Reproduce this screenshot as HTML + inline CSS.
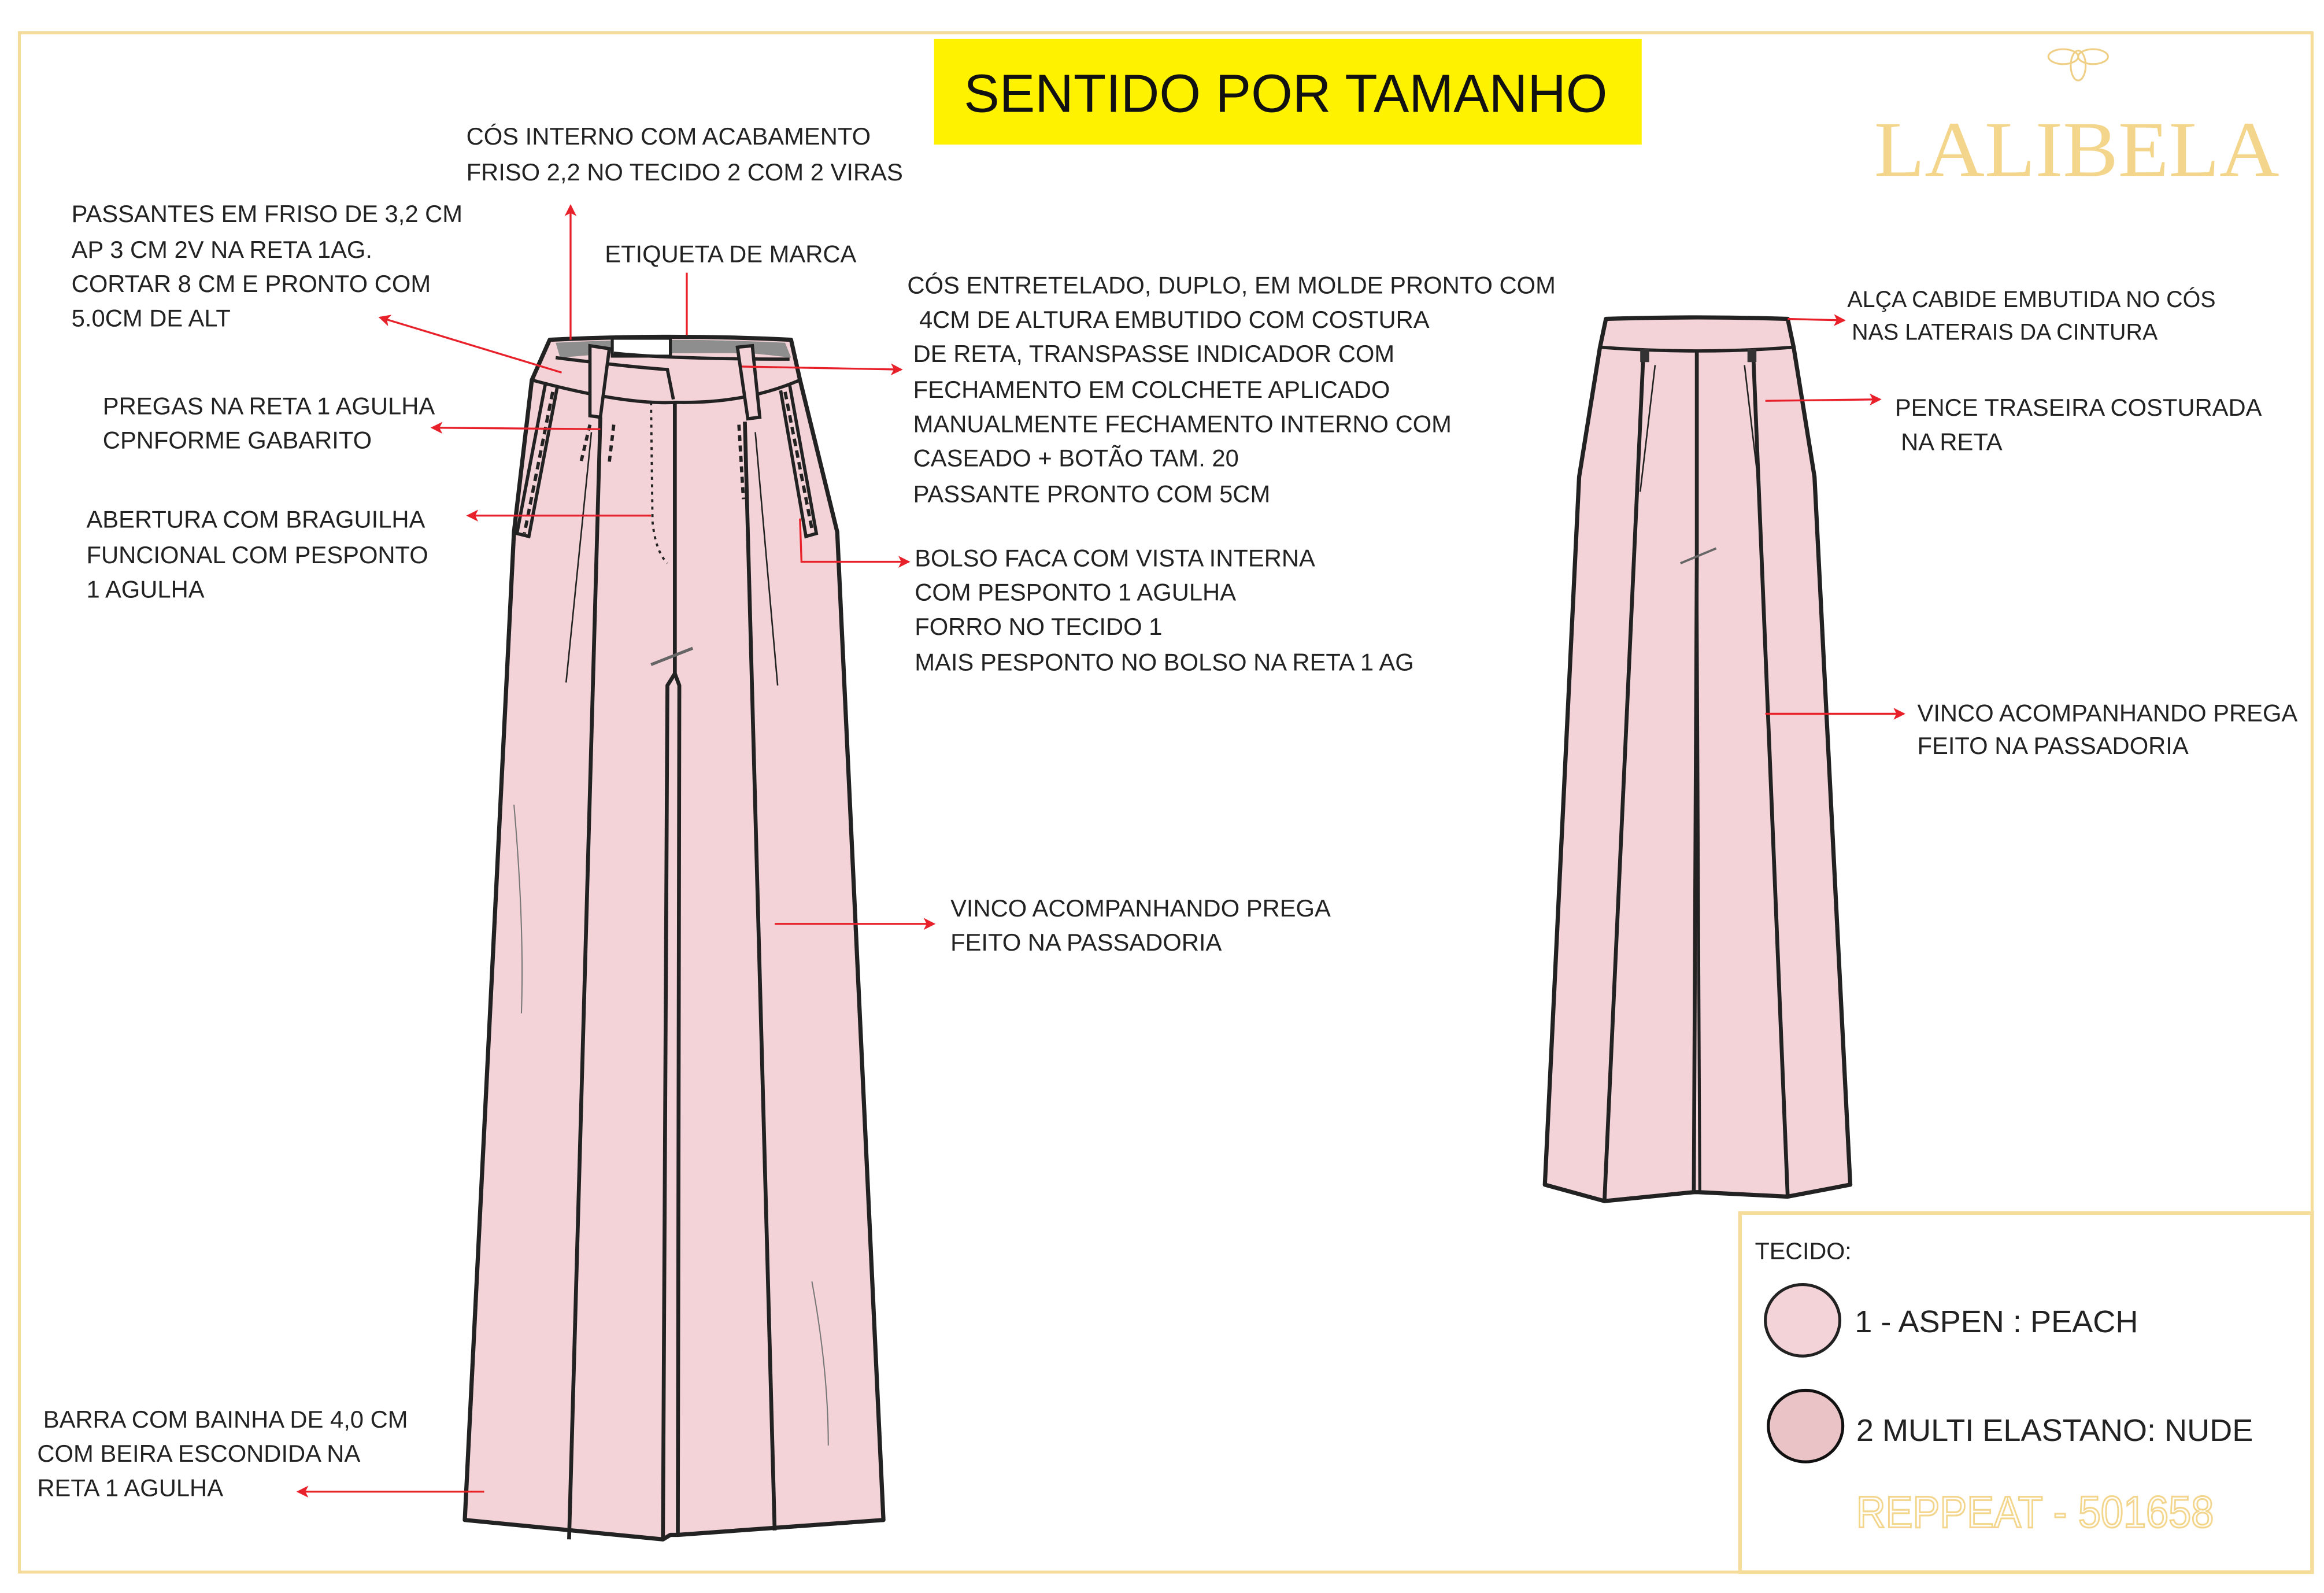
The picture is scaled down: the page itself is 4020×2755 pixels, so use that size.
<!DOCTYPE html>
<html><head><meta charset="utf-8"><style>
html,body{margin:0;padding:0;background:#fff;}
svg{display:block;}
text{font-family:"Liberation Sans",sans-serif;}
</style></head><body>
<svg width="4020" height="2755" viewBox="0 0 1560 1069" preserveAspectRatio="none" xmlns="http://www.w3.org/2000/svg">
<defs>
<marker id="ah" markerWidth="8" markerHeight="8" refX="7" refY="4" orient="auto" markerUnits="userSpaceOnUse">
<path d="M0,0 L8,4 L0,8 L2,4 Z" fill="#e8202a"/></marker>
</defs>
<rect x="0" y="0" width="1560" height="1069" fill="#fff"/>
<rect x="13" y="22" width="1539" height="1033" fill="none" stroke="#f6dc9a" stroke-width="2"/>
<rect x="1168" y="814" width="384" height="241" fill="#fff" stroke="#f6dc9a" stroke-width="2.5"/>

<rect x="627" y="26" width="475" height="71" fill="#fff200"/>
<text x="863" y="75" font-size="36" text-anchor="middle" fill="#111" textLength="432" lengthAdjust="spacingAndGlyphs">SENTIDO POR TAMANHO</text>

<text x="1394" y="118" font-size="53" text-anchor="middle" fill="#f3d58c" style="font-family:'Liberation Serif',serif;" textLength="272" lengthAdjust="spacingAndGlyphs">LALIBELA</text>
<g fill="none" stroke="#efcf86" stroke-width="1.2"><ellipse cx="1395" cy="44" rx="5" ry="10"/><ellipse cx="1385" cy="38" rx="10" ry="5"/><ellipse cx="1405" cy="38" rx="10" ry="5"/></g>

<!-- FRONT PANTS -->
<path d="M369,228 Q450,224 531,228 L537,255 L562,357 L593,1020 L455,1030 L450,1030 L445,1033 L312,1020 L345,357 L357,255 Z" fill="#f3d3d8" stroke="#222" stroke-width="2.8" stroke-linejoin="round"/>
<path d="M373,230 Q450,226 527,230 L531,240 Q498,236 495,237 L412,237 L376,240 Z" fill="#8e8e8e"/>
<rect x="411" y="227" width="39" height="12" fill="#fff" stroke="#222" stroke-width="2"/>
<g stroke="#222" stroke-width="2.2" fill="none">
<path d="M357,255 Q420,272 454,270 Q500,271 537,255"/>
<path d="M412,237 Q450,241 530,241"/>
<path d="M373,240 Q420,246 448,248 L452,268"/>
<path d="M396,232 L409,234 L403,280 L396,279 Z" fill="#f3d3d8"/>
<path d="M495,233 L505,232 L510,280 L502,281 Z" fill="#f3d3d8"/>
<path d="M403,280 L382,1033" stroke-width="2.6"/>
<path d="M500,283 L520,1027" stroke-width="2.6"/>
<path d="M453,270 L453,452 L448,460 L445,1033" stroke-width="2.6"/>
<path d="M453,452 L456,460 L455,1030" stroke-width="2.6"/>
<path d="M366,258 L347,358 L355,360 L374,260"/>
<path d="M530,258 L548,358 L541,360 L524,262"/>
<path d="M371,263 L352,358" stroke-dasharray="5,3"/>
<path d="M527,263 L545,355" stroke-dasharray="5,3"/>
<path d="M396,285 L390,310" stroke-dasharray="4,3"/>
<path d="M412,285 L409,310" stroke-dasharray="4,3"/>
<path d="M496,285 L499,335" stroke-dasharray="4,3"/>
<path d="M437,270 L438,350 Q440,370 448,378" stroke-dasharray="2,3" stroke-width="1.5"/>
<path d="M397,290 L380,458" stroke-width="1"/>
<path d="M507,290 L522,460" stroke-width="1"/>
</g>
<path d="M437,446 L465,435" stroke="#666" stroke-width="2"/>
<path d="M345,540 Q352,620 350,680" stroke="#777" stroke-width="0.8" fill="none"/>
<path d="M545,860 Q556,920 556,970" stroke="#777" stroke-width="0.8" fill="none"/>

<!-- BACK PANTS -->
<path d="M1078,214 Q1140,212 1200,214 L1204,233 L1218,320 L1242,795 L1200,803 L1140,800 L1137,800 L1077,806 L1037,795 L1060,320 L1074,233 Z" fill="#f3d3d8" stroke="#222" stroke-width="2.8" stroke-linejoin="round"/>
<g stroke="#222" stroke-width="2.2" fill="none">
<path d="M1074,233 Q1140,238 1204,233"/>
<path d="M1139,236 L1139,372 L1137,800" stroke-width="2.6"/>
<path d="M1139,372 L1141,800" stroke-width="2"/>
<path d="M1103,240 L1077,806" stroke-width="2.6"/>
<path d="M1177,240 L1200,803" stroke-width="2.6"/>
<path d="M1111,245 L1101,330" stroke-width="1"/>
<path d="M1171,245 L1181,330" stroke-width="1"/>
</g>
<rect x="1101" y="234" width="6" height="9" fill="#333"/>
<rect x="1173" y="234" width="6" height="9" fill="#333"/>
<path d="M1128,378 L1152,368" stroke="#666" stroke-width="1.5"/>

<!-- ARROWS -->
<g stroke="#e8202a" stroke-width="1.3" fill="none">
<path d="M383,228 L383,138" marker-end="url(#ah)"/>
<path d="M377,250 L255,213" marker-end="url(#ah)"/>
<path d="M461,225 L461,183"/>
<path d="M498,246 L605,248" marker-end="url(#ah)"/>
<path d="M403,288 L290,287" marker-end="url(#ah)"/>
<path d="M437,346 L314,346" marker-end="url(#ah)"/>
<path d="M537,348 L538,377 L610,377" marker-end="url(#ah)"/>
<path d="M520,620 L627,620" marker-end="url(#ah)"/>
<path d="M325,1001 L200,1001" marker-end="url(#ah)"/>
<path d="M1200,214 L1238,215" marker-end="url(#ah)"/>
<path d="M1185,269 L1262,268" marker-end="url(#ah)"/>
<path d="M1185,479 L1278,479" marker-end="url(#ah)"/>
</g>

<!-- LABELS -->
<g font-size="16.2" fill="#222">
<text x="313" y="97">CÓS INTERNO COM ACABAMENTO</text>
<text x="313" y="121">FRISO 2,2 NO TECIDO 2 COM  2 VIRAS</text>
<text x="48" y="149">PASSANTES EM FRISO DE 3,2 CM</text>
<text x="48" y="173">AP 3 CM 2V NA RETA 1AG.</text>
<text x="48" y="196">CORTAR 8  CM  E  PRONTO COM</text>
<text x="48" y="219">5.0CM DE ALT</text>
<text x="406" y="176">ETIQUETA DE MARCA</text>
<text x="609" y="197">CÓS ENTRETELADO, DUPLO, EM MOLDE PRONTO COM</text>
<text x="617" y="220">4CM DE ALTURA EMBUTIDO COM  COSTURA</text>
<text x="613" y="243">DE RETA, TRANSPASSE INDICADOR COM</text>
<text x="613" y="267">FECHAMENTO EM COLCHETE  APLICADO</text>
<text x="613" y="290">MANUALMENTE FECHAMENTO INTERNO COM</text>
<text x="613" y="313">CASEADO + BOTÃO TAM. 20</text>
<text x="613" y="337">PASSANTE PRONTO COM 5CM</text>
<text x="69" y="278">PREGAS NA RETA 1 AGULHA</text>
<text x="69" y="301">CPNFORME GABARITO</text>
<text x="58" y="354">ABERTURA COM BRAGUILHA</text>
<text x="58" y="378">FUNCIONAL COM  PESPONTO</text>
<text x="58" y="401">1 AGULHA</text>
<text x="614" y="380">BOLSO FACA COM VISTA INTERNA</text>
<text x="614" y="403">COM PESPONTO 1 AGULHA</text>
<text x="614" y="426">FORRO  NO TECIDO 1</text>
<text x="614" y="450">MAIS PESPONTO NO BOLSO NA RETA 1 AG</text>
<text x="638" y="615">VINCO ACOMPANHANDO PREGA</text>
<text x="638" y="638">FEITO NA PASSADORIA</text>
<text x="29" y="958">BARRA  COM BAINHA  DE 4,0 CM</text>
<text x="25" y="981">COM BEIRA ESCONDIDA NA</text>
<text x="25" y="1004">RETA 1 AGULHA</text>
<text x="1240" y="206" font-size="15.3">ALÇA CABIDE EMBUTIDA NO CÓS</text>
<text x="1243" y="228" font-size="15.3">NAS LATERAIS DA CINTURA</text>
<text x="1272" y="279">PENCE TRASEIRA COSTURADA</text>
<text x="1276" y="302">NA RETA</text>
<text x="1287" y="484">VINCO ACOMPANHANDO PREGA</text>
<text x="1287" y="506">FEITO NA PASSADORIA</text>
</g>

<!-- LEGEND -->
<text x="1178" y="845" font-size="16" fill="#222">TECIDO:</text>
<ellipse cx="1210" cy="886" rx="25" ry="24" fill="#f3d3d8" stroke="#222" stroke-width="2"/>
<text x="1245" y="894" font-size="21" fill="#222">1 - ASPEN : PEACH</text>
<ellipse cx="1212" cy="957" rx="25" ry="24" fill="#e9c3c5" stroke="#111" stroke-width="2"/>
<text x="1246" y="967" font-size="21" fill="#222">2  MULTI ELASTANO: NUDE</text>
<text x="1366" y="1025" font-size="30" text-anchor="middle" fill="#fff" stroke="#f3d58c" stroke-width="1.2" textLength="240" lengthAdjust="spacingAndGlyphs">REPPEAT - 501658</text>
</svg>
</body></html>
